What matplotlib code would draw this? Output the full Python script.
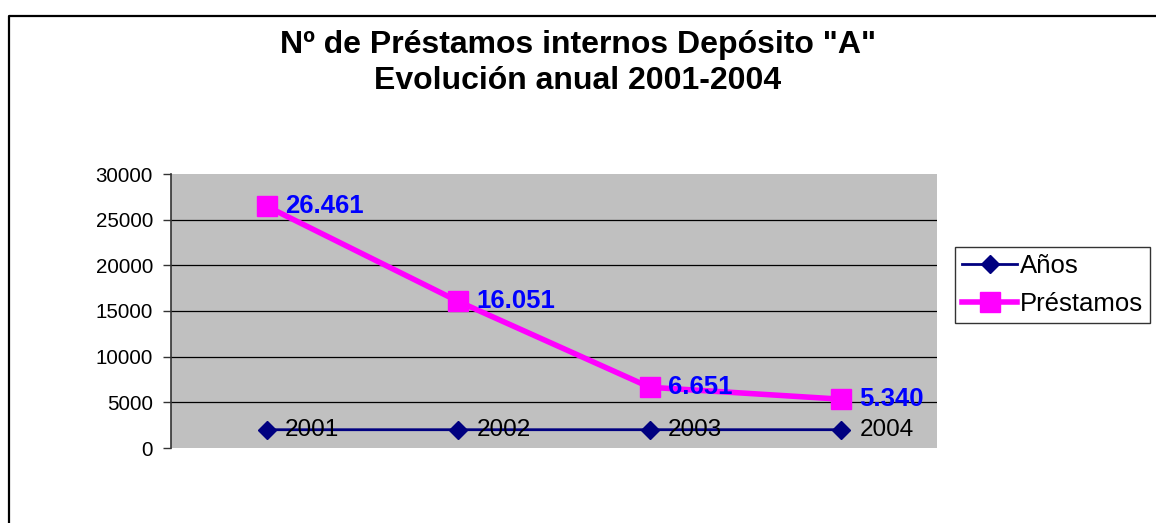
import matplotlib
matplotlib.use("Agg")
import matplotlib.pyplot as plt
from matplotlib.lines import Line2D

plt.rcParams['font.family'] = ['Liberation Sans', 'DejaVu Sans']

categories = ["2001", "2002", "2003", "2004"]
anos_values = [2001, 2002, 2003, 2004]
prestamos_values = [26461, 16051, 6651, 5340]
prestamos_labels = ["26.461", "16.051", "6.651", "5.340"]
yticks = [0, 5000, 10000, 15000, 20000, 25000, 30000]
title = 'Nº de Préstamos internos Depósito "A"\nEvolución anual 2001-2004'

W, H = 1156, 523
fig = plt.figure(figsize=(W / 100, H / 100), dpi=100)
fig.patch.set_facecolor('white')

# outer chart-area border (left and top visible)
fig.add_artist(Line2D([8.5 / W, 8.5 / W, 1.0], [0.0, 1 - 16 / H, 1 - 16 / H],
                      transform=fig.transFigure, color='black', lw=1.6))

ax = fig.add_axes([171 / W, 1 - 448 / H, (937 - 171) / W, (448 - 174) / H])
ax.set_facecolor('#C0C0C0')
x = list(range(len(categories)))

ax.plot(x, anos_values, color='#000080', lw=2, marker='D', ms=9,
        mfc='#000080', mec='#000080', label='Años', zorder=3)
ax.plot(x, prestamos_values, color='#FF00FF', lw=4, marker='s', ms=14,
        mfc='#FF00FF', mec='#FF00FF', label='Préstamos', zorder=4)

for xi, v, lab in zip(x, anos_values, categories):
    ax.annotate(lab, (xi, v), xytext=(13, 0), textcoords='offset points',
                ha='left', va='center', fontsize=17.5, color='black', zorder=5)
for xi, v, lab in zip(x, prestamos_values, prestamos_labels):
    ax.annotate(lab, (xi, v), xytext=(13, 0), textcoords='offset points',
                ha='left', va='center', fontsize=18.5, fontweight='bold',
                color='#0000FF', zorder=6)

ax.set_xlim(-0.5, len(categories) - 0.5)
ax.set_ylim(0, 30000)
ax.set_yticks(yticks)
ax.set_yticklabels([str(t) for t in yticks], fontsize=14.8)
ax.set_xticks([])
ax.tick_params(axis='y', direction='out', length=6, width=1, color='#333333', pad=7)
ax.yaxis.grid(True, color='black', lw=0.9)
ax.set_axisbelow(True)
gl = ax.get_ygridlines()
gl[0].set_visible(False)
gl[-1].set_visible(False)
for s in ['top', 'right', 'bottom']:
    ax.spines[s].set_visible(False)
ax.spines['left'].set_color('#333333')
ax.spines['left'].set_linewidth(1.2)

fig.text(578 / W, 1 - 63 / H, title, ha='center', va='center',
         fontsize=23, fontweight='bold', linespacing=1.27)

leg = ax.legend(loc='center left', bbox_to_anchor=(955 / W, 1 - 285 / H),
                bbox_transform=fig.transFigure, fontsize=18.5, frameon=True,
                fancybox=False, edgecolor='black', borderpad=0.28,
                handlelength=2.15, handletextpad=0.1, labelspacing=0.55,
                borderaxespad=0)
leg.get_frame().set_linewidth(1.0)

fig.savefig('out.png', dpi=100)
